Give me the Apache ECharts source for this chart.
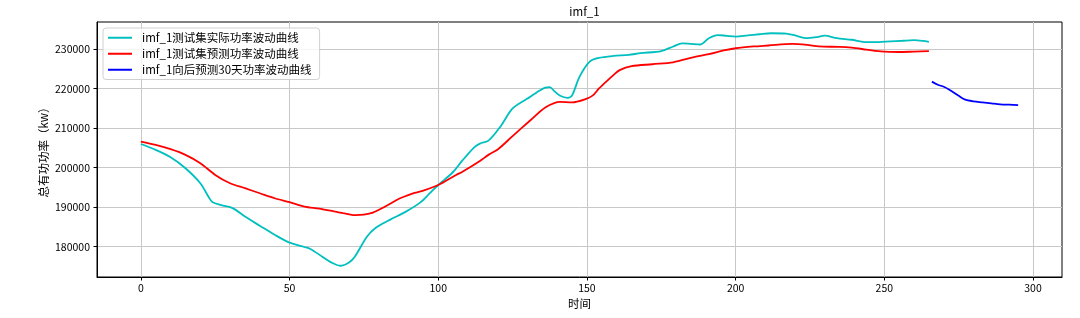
<!DOCTYPE html>
<html>
<head>
<meta charset="utf-8">
<script src="https://cdn.jsdelivr.net/npm/echarts@6/dist/echarts.min.js"></script>
<style>html,body{margin:0;padding:0;background:#fff}#c{width:1080px;height:318px}</style>
</head>
<body>
<div id="c"></div>
<script>
var titleText = 'imf_1';
var xAxisName = '时间';
var yAxisName = '总有功功率（kw）';
var seriesNames = ['imf_1测试集实际功率波动曲线', 'imf_1测试集预测功率波动曲线', 'imf_1向后预测30天功率波动曲线'];
var xTicks = [0, 50, 100, 150, 200, 250, 300];
var yTicks = [180000, 190000, 200000, 210000, 220000, 230000];

var actualX = [0,5,10,15,20,23,24,27,31,35,40,45,50,55,57,61,64,67,70,72,76,79,84,89,94,97,100,105,108,112,114,117,121,125,130,133,136,137.5,139,141,143.5,145,147.5,151,154,159,164,168,175,179,182,185,188,191,194,197,200,204,208,212,217,220,224,227,230,234,239,244,248,252,256,260,263,265];
var actualY = [206000,204500,202650,199860,196050,192300,191300,190500,189700,187600,185300,183000,181000,179900,179400,177450,176000,175150,176000,177500,182500,184800,186900,188800,191200,193400,195600,198900,201700,205100,206100,206900,210500,215000,217500,219000,220300,220400,219400,218200,217700,218300,223000,226900,227800,228300,228550,229000,229550,230700,231500,231350,231200,232800,233600,233400,233200,233500,233800,234050,233950,233500,232800,233050,233450,232800,232400,231800,231800,232000,232150,232300,232100,231850];

var predX = [0,5,10,15,20,25,30,35,40,45,50,55,60,65,68,72,75,78,84,86,88,92,95,100,106,108,114,117,120,125,131,136,141,145,150,152,154,156.5,159,161,165,172,179,186,191,196,200,206,211,219,224,228,235,239,244,248,250,255,260,265];
var predY = [206620,205770,204670,203240,201120,198170,196050,194790,193520,192250,191250,190140,189600,188900,188500,188000,188100,188600,190900,191800,192500,193600,194200,195600,198150,198900,201700,203300,204600,208000,212000,215250,216690,216530,217500,218300,220000,221800,223500,224700,225700,226200,226700,228000,228750,229700,230250,230700,230950,231350,231100,230700,230600,230400,229900,229500,229400,229300,229400,229500];

var foreX = [266,268,270,272,275,277,280,283,286,289,292,295];
var foreY = [221800,221000,220500,219700,218200,217300,216800,216550,216300,216050,215950,215850];

function pairs(xs, ys){ return xs.map(function(x,i){ return [x, ys[i]]; }); }

var font = "'Noto Sans CJK SC', 'DejaVu Sans', sans-serif";
var chart = echarts.init(document.getElementById('c'), null, {renderer:'canvas'});
chart.setOption({
  animation: false,
  backgroundColor: '#fff',
  textStyle: {fontFamily: font},
  title: {
    text: titleText, left: 579.5, top: 1, textAlign: 'center',
    textStyle: {fontSize: 11.5, fontWeight: 'normal', color: '#000', fontFamily: font}
  },
  grid: {left: 97, right: 18, top: 22, bottom: 41, show: true, borderColor: '#000', borderWidth: 1, containLabel: false},
  legend: {
    orient: 'vertical', left: 103, top: 28, padding: [4, 8, 4, 4],
    itemWidth: 24, itemHeight: 12, itemGap: 4.5,
    backgroundColor: 'rgba(255,255,255,0.8)', borderColor: '#d0d0d0', borderWidth: 1, borderRadius: 3,
    itemStyle: {color: 'rgba(0,0,0,0)', borderWidth: 0, opacity: 0},
    textStyle: {fontSize: 11.5, color: '#000', fontFamily: font, padding: [0,0,0,5]},
    data: seriesNames
  },
  xAxis: {
    type: 'value', min: -14.75, max: 309.75,
    name: xAxisName, nameLocation: 'middle', nameGap: 21, nameMoveOverlap: false,
    nameTextStyle: {fontSize: 11.5, color: '#000', fontFamily: font},
    axisLine: {show: true, onZero: false, lineStyle: {color: '#000', width: 1}},
    axisTick: {show: true, inside: false, length: 3.5, lineStyle: {color: '#000'}, customValues: xTicks},
    axisLabel: {margin: 6, fontSize: 10.5, color: '#000', fontFamily: font, customValues: xTicks,
      formatter: function(v){ return String(v); }},
    splitLine: {show: true, lineStyle: {color: '#c8c8c8', width: 1}}
  },
  yAxis: {
    type: 'value', min: 172300, max: 236900,
    name: yAxisName, nameLocation: 'middle', nameGap: 48, nameRotate: 90, nameMoveOverlap: false,
    nameTextStyle: {fontSize: 11.5, color: '#000', fontFamily: font},
    axisLine: {show: true, onZero: false, lineStyle: {color: '#000', width: 1}},
    axisTick: {show: true, inside: false, length: 3.5, lineStyle: {color: '#000'}, customValues: yTicks},
    axisLabel: {margin: 7, fontSize: 10.5, color: '#000', fontFamily: font, customValues: yTicks,
      formatter: function(v){ return String(v); }},
    splitLine: {show: true, lineStyle: {color: '#c8c8c8', width: 1}}
  },
  series: [
    {name: seriesNames[0], type: 'line', data: pairs(actualX, actualY), symbol: 'none', smooth: 0.3,
     lineStyle: {color: '#00BFBF', width: 1.8}, itemStyle: {color: '#00BFBF'}},
    {name: seriesNames[1], type: 'line', data: pairs(predX, predY), symbol: 'none', smooth: 0.3,
     lineStyle: {color: '#FF0000', width: 1.8}, itemStyle: {color: '#FF0000'}},
    {name: seriesNames[2], type: 'line', data: pairs(foreX, foreY), symbol: 'none', smooth: 0.3,
     lineStyle: {color: '#0000FF', width: 1.8}, itemStyle: {color: '#0000FF'}}
  ]
});
</script>
</body>
</html>
